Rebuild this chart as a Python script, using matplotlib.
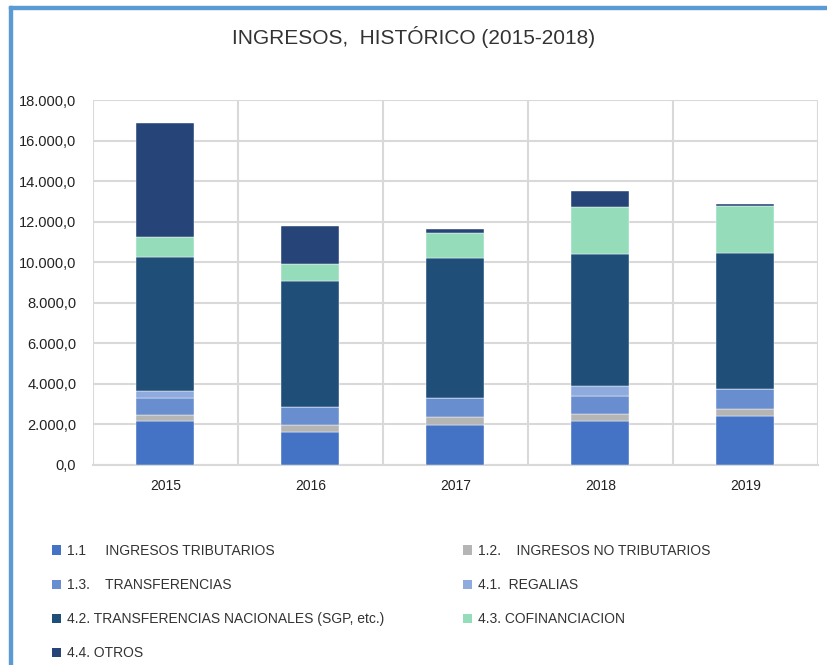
import matplotlib.pyplot as plt
import matplotlib.ticker as mticker
from matplotlib.patches import Patch, Rectangle
import numpy as np

plt.rc('font', family=['Liberation Sans', 'DejaVu Sans'])

years = ['2015', '2016', '2017', '2018', '2019']

tributarios = [2170, 1610, 1990, 2170, 2400]
no_tributarios = [310, 360, 390, 340, 360]
transferencias = [820, 910, 940, 880, 990]
regalias = [350, 0, 0, 490, 0]
sgp = [6620, 6190, 6870, 6510, 6690]
cofinanciacion = [990, 830, 1250, 2320, 2330]
otros = [5620, 1870, 200, 790, 90]

series = [
    ('1.1     INGRESOS TRIBUTARIOS', tributarios, '#4472C4'),
    ('1.2.    INGRESOS NO TRIBUTARIOS', no_tributarios, '#B5B5B5'),
    ('1.3.    TRANSFERENCIAS', transferencias, '#698ED0'),
    ('4.1.  REGALIAS', regalias, '#8FAADC'),
    ('4.2. TRANSFERENCIAS NACIONALES (SGP, etc.)', sgp, '#1F4E79'),
    ('4.3. COFINANCIACION', cofinanciacion, '#95DCBA'),
    ('4.4. OTROS', otros, '#264478'),
]

W, H = 828, 665
fig = plt.figure(figsize=(W / 100, H / 100), dpi=100)

# blue frame (left + top)
fig.patches.append(Rectangle((9 / W, 0), 3 / W, (H - 6) / H, transform=fig.transFigure,
                             color='#5B9BD5', zorder=0))
fig.patches.append(Rectangle((9 / W, (H - 9) / H), (W - 9) / W, 3 / H, transform=fig.transFigure,
                             color='#5B9BD5', zorder=0))

ax = fig.add_axes([93 / W, (H - 465) / H, (818 - 93) / W, (465 - 100) / H])

x = np.arange(len(years))
bottom = np.zeros(len(years))
handles = []
for label, vals, color in series:
    vals = np.array(vals, dtype=float)
    ax.bar(x, vals, width=0.4, bottom=bottom, color=color, edgecolor='white',
           linewidth=0.3, zorder=3)
    bottom += vals
    handles.append(Patch(facecolor=color, label=label))

ax.set_xlim(-0.5, len(years) - 0.5)
ax.set_ylim(0, 18000)
ax.yaxis.set_major_locator(mticker.MultipleLocator(2000))
ax.yaxis.set_major_formatter(mticker.FuncFormatter(
    lambda v, p: f'{v:,.1f}'.replace(',', 'X').replace('.', ',').replace('X', '.')))
ax.set_xticks(x)
ax.set_xticklabels(years)
ax.set_xticks(np.arange(-0.5, len(years)), minor=True)

ax.grid(axis='y', which='major', color='#D9D9D9', linewidth=1.5, zorder=0)
ax.grid(axis='x', which='minor', color='#D9D9D9', linewidth=1.5, zorder=0)
for s in ['top', 'right', 'left']:
    ax.spines[s].set_visible(False)
ax.spines['bottom'].set_color('#D9D9D9')
ax.spines['bottom'].set_linewidth(1.5)
ax.tick_params(which='both', length=0)
ax.tick_params(axis='y', labelsize=10.5, colors='#222222', pad=12)
ax.tick_params(axis='x', labelsize=10, colors='#222222', pad=10)

fig.text(0.5, (H - 37) / H, 'INGRESOS,  HISTÓRICO (2015-2018)', ha='center', va='center',
         fontsize=15, color='#333333')

leg_kw = dict(frameon=False, fontsize=10, handlelength=0.65, handleheight=0.65,
              handletextpad=0.4, labelspacing=1.45, borderaxespad=0, borderpad=0)
col1 = [handles[i] for i in (0, 2, 4, 6)]
col2 = [handles[i] for i in (1, 3, 5)]
l1 = fig.legend(handles=col1, loc='upper left', bbox_to_anchor=(52 / W, (H - 544) / H), **leg_kw)
l2 = fig.legend(handles=col2, loc='upper left', bbox_to_anchor=(463 / W, (H - 544) / H), **leg_kw)
for leg in (l1, l2):
    for t in leg.get_texts():
        t.set_color('#333333')

fig.savefig('out.png', dpi=100)
